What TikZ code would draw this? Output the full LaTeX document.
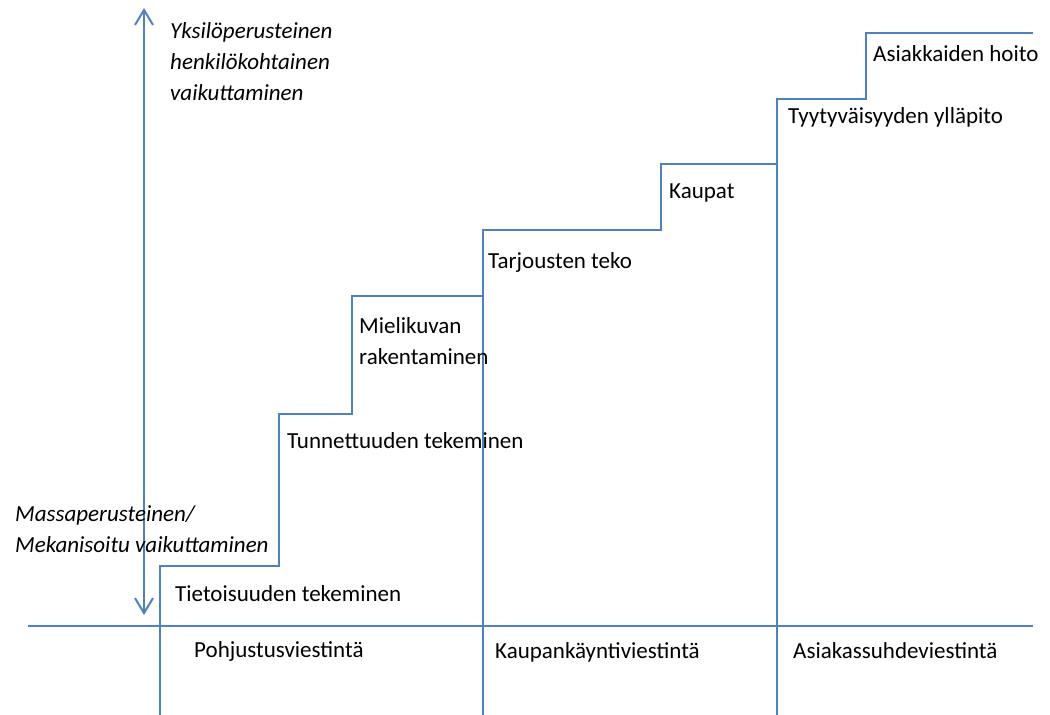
\documentclass[tikz,border=0pt]{standalone}
\usepackage{fontspec}
\setmainfont{Carlito}
\usetikzlibrary{arrows.meta}
\definecolor{lineblue}{HTML}{4F81BD}
\begin{document}
\begin{tikzpicture}[x=1pt,y=-1pt,
  ln/.style={draw=lineblue,line width=2pt},
  lbl/.style={anchor=base west,inner sep=0pt,font=\fontsize{23}{31}\selectfont},
  ilbl/.style={lbl,font=\fontsize{23}{31}\selectfont\itshape,align=left},
  dblarrow/.style={ln,{Straight Barb[length=15pt,width=18pt,line width=2pt]}-{Straight Barb[length=15pt,width=18pt,line width=2pt]}}]
\useasboundingbox (0,0) rectangle (1050,715);
% axis
\coordinate (axL) at (28,626);
\coordinate (axR) at (1033,626);
\draw[ln] (axL) -- (axR);
% vertical double arrow
\coordinate (arT) at (144,8);
\coordinate (arB) at (144,615);
\draw[dblarrow] (arB) -- (arT);
% staircase
\coordinate (s0) at (160,715);
\coordinate (s1) at (160,566);
\coordinate (s2) at (279,566);
\coordinate (s3) at (279,414);
\coordinate (s4) at (352,414);
\coordinate (s5) at (352,296);
\coordinate (s6) at (483,296);
\coordinate (s7) at (483,230);
\coordinate (s8) at (661,230);
\coordinate (s9) at (661,164);
\coordinate (s10) at (777,164);
\coordinate (s11) at (777,99);
\coordinate (s12) at (866,99);
\coordinate (s13) at (866,33);
\coordinate (s14) at (1033,33);
\draw[ln,line join=miter] (s0) -- (s1) -- (s2) -- (s3) -- (s4) -- (s5) -- (s6) -- (s7) -- (s8) -- (s9) -- (s10) -- (s11) -- (s12) -- (s13) -- (s14);
% dividers
\coordinate (d1) at (483,715);
\coordinate (d2) at (777,715);
\draw[ln] (s6) -- (d1);
\draw[ln] (s11) -- (d2);
% labels (multi-line nodes: base = last line)
\node[ilbl] (top) at (170,100) {Yksilöperusteinen\\henkilökohtainen\\vaikuttaminen};
\node[ilbl] (bot) at (15,552) {Massaperusteinen/\\Mekanisoitu vaikuttaminen};
\node[lbl] (l1) at (175,601) {Tietoisuuden tekeminen};
\node[lbl] (l2) at (287,448) {Tunnettuuden tekeminen};
\node[lbl,align=left] (l3) at (359,364) {Mielikuvan\\rakentaminen};
\node[lbl] (l4) at (488,268) {Tarjousten teko};
\node[lbl] (l5) at (669,198) {Kaupat};
\node[lbl] (l6) at (788,123) {Tyytyväisyyden ylläpito};
\node[lbl] (l7) at (873,61) {Asiakkaiden hoito};
\node[lbl] (p1) at (194,657) {Pohjustusviestintä};
\node[lbl] (p2) at (495,658) {Kaupankäyntiviestintä};
\node[lbl] (p3) at (793,658) {Asiakassuhdeviestintä};
\end{tikzpicture}
\end{document}
